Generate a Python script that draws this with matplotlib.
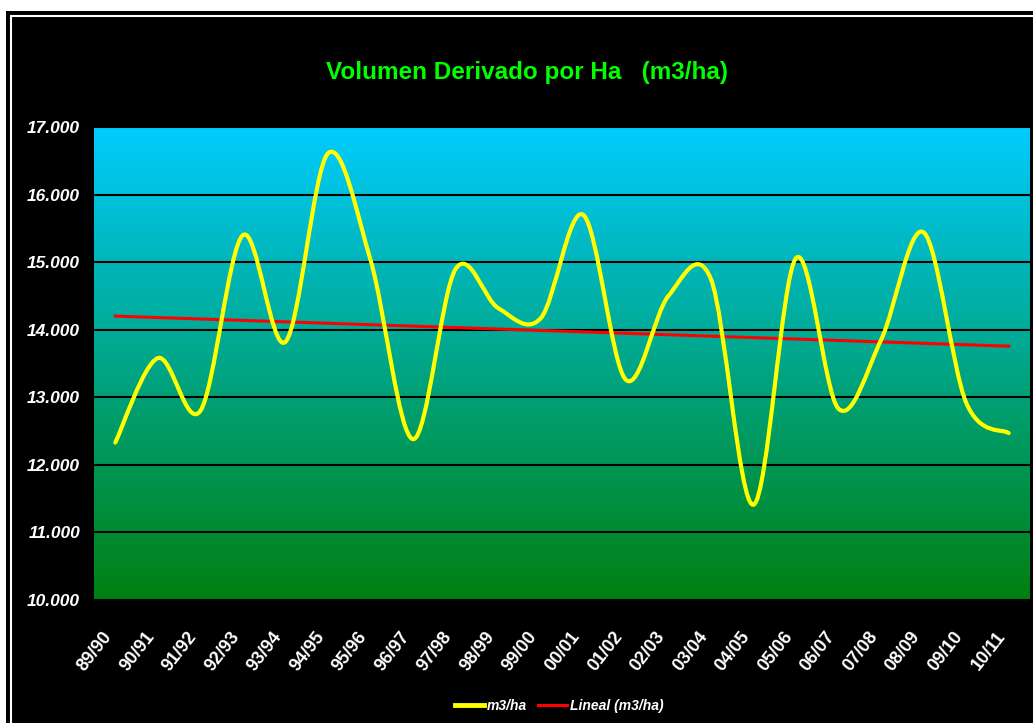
# Volumen derivado por hectárea, 89/90 - 10/11, with linear trend

import numpy as np
from matplotlib import pyplot as plt
from matplotlib.path import Path
from matplotlib.patches import PathPatch, Rectangle
from matplotlib.lines import Line2D
from matplotlib.ticker import FuncFormatter, MultipleLocator

seasons = ['89/90', '90/91', '91/92', '92/93', '93/94', '94/95', '95/96', '96/97',
           '97/98', '98/99', '99/00', '00/01', '01/02', '02/03', '03/04', '04/05',
           '05/06', '06/07', '07/08', '08/09', '09/10', '10/11']
volumen = [12330, 13580, 12800, 15400, 13820, 16610, 15030, 12380,
           14900, 14320, 14170, 15700, 13260, 14500, 14750, 11410,
           15060, 12830, 13850, 15440, 12920, 12470]

title = 'Volumen Derivado por Ha   (m3/ha)'
lbl_serie = 'm3/ha'
lbl_trend = 'Lineal (m3/ha)'

W, H = 1033, 723
fig = plt.figure(figsize=(W / 100, H / 100), dpi=100)
fig.patch.set_facecolor('white')

# black chart frame with thin white inner line
fig.add_artist(Rectangle((6 / W, -0.05), 1.2, (H - 11) / H + 0.05, zorder=-2,
                         transform=fig.transFigure, facecolor='black', edgecolor='none'))
fig.add_artist(Rectangle((11 / W, -0.05), 1.2, (H - 16) / H + 0.05, zorder=-1,
                         transform=fig.transFigure, facecolor='none',
                         edgecolor='white', lw=1.5))

ax = fig.add_axes([94 / W, 1 - 600 / H, 936 / W, 473 / H])
ax.set_facecolor('none')
for s in ax.spines.values():
    s.set_visible(False)

# gradient background cyan -> green
top = np.array([0, 204, 255]) / 255
bot = np.array([0, 128, 16]) / 255
t = np.linspace(0, 1, 256)[:, None]
grad = (top * (1 - t) + bot * t)[:, None, :]
ax.imshow(grad, extent=[0, 1, 0, 1], transform=ax.transAxes, aspect='auto',
          zorder=0, interpolation='bilinear')

x = np.arange(len(seasons))
y = np.array(volumen, dtype=float)

# smoothed line (Bezier through the points, like the spreadsheet "smoothed line")
verts = [(x[0], y[0])]
codes = [Path.MOVETO]
n = len(x)
for i in range(n - 1):
    p0 = np.array([x[max(i - 1, 0)], y[max(i - 1, 0)]])
    p1 = np.array([x[i], y[i]])
    p2 = np.array([x[i + 1], y[i + 1]])
    p3 = np.array([x[min(i + 2, n - 1)], y[min(i + 2, n - 1)]])
    c1 = p1 + (p2 - p0) / 6
    c2 = p2 - (p3 - p1) / 6
    verts += [tuple(c1), tuple(c2), tuple(p2)]
    codes += [Path.CURVE4] * 3
ax.add_patch(PathPatch(Path(verts, codes), facecolor='none', edgecolor='#FFFF00',
                       lw=3, zorder=4, capstyle='round', joinstyle='round'))

# linear trend
k, b = np.polyfit(x, y, 1)
ax.plot(x, k * x + b, color='#FF0000', lw=2.2, zorder=3)

ax.set_xlim(-0.5, len(seasons) - 0.5)
ax.set_ylim(10000, 17000)
ax.yaxis.set_major_locator(MultipleLocator(1000))
ax.yaxis.set_major_formatter(FuncFormatter(lambda v, p: f'{v:,.0f}'.replace(',', '.')))
ax.grid(axis='y', color='black', lw=1.5, zorder=1)
ax.set_axisbelow(True)

ax.set_xticks(x)
ax.set_xticklabels(seasons, rotation=52, ha='right', va='bottom', rotation_mode='anchor',
                   color='white', fontsize=13, family='Liberation Sans', weight='bold')
for lab in ax.get_yticklabels():
    lab.set(color='white', fontsize=12.5, family='Liberation Sans',
            weight='bold', style='italic')
ax.tick_params(length=0)
ax.tick_params(axis='x', pad=28)
ax.tick_params(axis='y', pad=10)

fig.text(527 / W, 1 - 72 / H, title, color='#00FF00', fontsize=17.5, weight='bold',
         family='Liberation Sans', ha='center', va='center')

handles = [Line2D([], [], color='#FFFF00', lw=3.5), Line2D([], [], color='#FF0000', lw=2.2)]
leg = fig.legend(handles, [lbl_serie, lbl_trend], loc='center', ncol=2,
                 bbox_to_anchor=(559 / W, 1 - 706 / H), frameon=False,
                 handlelength=2.1, handletextpad=0.2, columnspacing=0.8,
                 prop=dict(family='Liberation Sans', weight='bold', style='italic', size=10))
for txt in leg.get_texts():
    txt.set_color('white')

fig.savefig('out.png', dpi=100, facecolor=fig.get_facecolor())
